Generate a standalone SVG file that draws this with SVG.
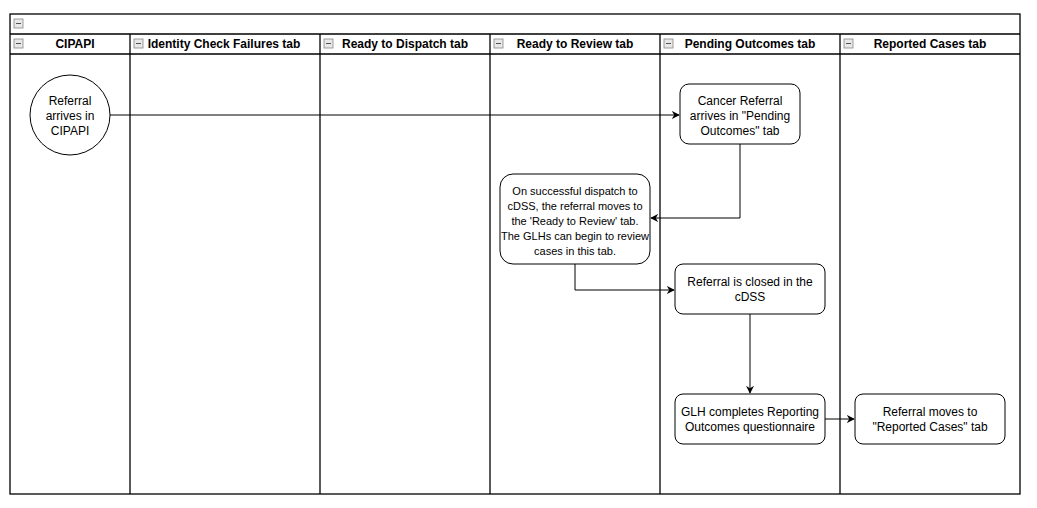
<svg xmlns="http://www.w3.org/2000/svg" width="1037" height="508" viewBox="0 0 1037 508">
<defs>
<style>
.frame{fill:none;stroke:#000;stroke-width:1.3}
.lane{fill:none;stroke:#000;stroke-width:1.3}
.hdr{font-family:"Liberation Sans",Arial,sans-serif;font-size:12px;font-weight:bold;fill:#000;text-anchor:middle}
.txt{font-family:"Liberation Sans",Arial,sans-serif;font-size:12px;fill:#000;text-anchor:middle}
.sm{font-size:11px}
.node{fill:#fff;stroke:#000;stroke-width:1}
.edge{fill:none;stroke:#000;stroke-width:1}
.ico{fill:#e8e8e8;stroke:#888;stroke-width:0.8}
.icol{stroke:#555;stroke-width:1}
</style>
<marker id="arr" viewBox="0 0 10 10" refX="9" refY="5" markerWidth="8" markerHeight="8" markerUnits="userSpaceOnUse" orient="auto">
<path d="M0,0 L10,5 L0,10 L3,5 Z" fill="#000"/>
</marker>
<g id="icon">
<rect class="ico" x="0" y="0" width="9" height="9"/>
<line class="icol" x1="2" y1="4.5" x2="7" y2="4.5"/>
</g>
</defs>
<rect width="1037" height="508" fill="#fff"/>
<g id="pool">
<rect class="frame" x="10" y="14" width="1010" height="480"/>
<line class="lane" x1="10" y1="34" x2="1020" y2="34"/>
<line class="lane" x1="10" y1="54" x2="1020" y2="54"/>
<line class="lane" x1="130" y1="34" x2="130" y2="494"/>
<line class="lane" x1="320" y1="34" x2="320" y2="494"/>
<line class="lane" x1="490" y1="34" x2="490" y2="494"/>
<line class="lane" x1="660" y1="34" x2="660" y2="494"/>
<line class="lane" x1="840" y1="34" x2="840" y2="494"/>
<use href="#icon" x="14" y="19"/>
<use href="#icon" x="14" y="39"/>
<use href="#icon" x="134" y="39"/>
<use href="#icon" x="324" y="39"/>
<use href="#icon" x="494" y="39"/>
<use href="#icon" x="664" y="39"/>
<use href="#icon" x="844" y="39"/>
<text class="hdr" x="75" y="48">CIPAPI</text>
<text class="hdr" x="224" y="48">Identity Check Failures tab</text>
<text class="hdr" x="405" y="48">Ready to Dispatch tab</text>
<text class="hdr" x="575" y="48">Ready to Review tab</text>
<text class="hdr" x="750" y="48">Pending Outcomes tab</text>
<text class="hdr" x="930" y="48">Reported Cases tab</text>
</g>
<g id="connectors">
<path class="edge" d="M110,115 L679,115" marker-end="url(#arr)"/>
<path class="edge" d="M740,144 L740,218 L651,218" marker-end="url(#arr)"/>
<path class="edge" d="M575,264 L575,290 L674,290" marker-end="url(#arr)"/>
<path class="edge" d="M750,314 L750,393" marker-end="url(#arr)"/>
<path class="edge" d="M825,419 L854,419" marker-end="url(#arr)"/>
</g>
<g id="n-start">
<circle class="node" cx="70" cy="115" r="40"/>
<text class="txt" x="70" y="105">Referral</text>
<text class="txt" x="70" y="120">arrives in</text>
<text class="txt" x="70" y="135">CIPAPI</text>
</g>
<g id="n-pending">
<rect class="node" x="680" y="84" width="120" height="60" rx="9"/>
<text class="txt" x="740" y="105">Cancer Referral</text>
<text class="txt" x="740" y="120">arrives in "Pending</text>
<text class="txt" x="740" y="135">Outcomes" tab</text>
</g>
<g id="n-review">
<rect class="node" x="500" y="174" width="150" height="90" rx="13"/>
<text class="txt sm" x="575" y="195">On successful dispatch to</text>
<text class="txt sm" x="575" y="210">cDSS, the referral moves to</text>
<text class="txt sm" x="575" y="225">the 'Ready to Review' tab.</text>
<text class="txt sm" x="575" y="240">The GLHs can begin to review</text>
<text class="txt sm" x="575" y="255">cases in this tab.</text>
</g>
<g id="n-closed">
<rect class="node" x="675" y="264" width="150" height="50" rx="8"/>
<text class="txt" x="750" y="286">Referral is closed in the</text>
<text class="txt" x="750" y="301">cDSS</text>
</g>
<g id="n-glh">
<rect class="node" x="675" y="394" width="150" height="50" rx="8"/>
<text class="txt" x="750" y="416">GLH completes Reporting</text>
<text class="txt" x="750" y="431">Outcomes questionnaire</text>
</g>
<g id="n-reported">
<rect class="node" x="855" y="394" width="150" height="50" rx="8"/>
<text class="txt" x="930" y="416">Referral moves to</text>
<text class="txt" x="930" y="431">"Reported Cases" tab</text>
</g>
</svg>
